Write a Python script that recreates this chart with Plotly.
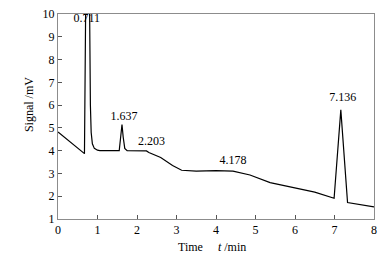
import plotly.graph_objects as go

# chromatogram trace (time in min, signal in mV)
time = [0.0, 0.66, 0.67, 0.70, 0.76, 0.80, 0.82, 0.84, 0.87, 0.92, 1.0, 1.06, 1.55, 1.59, 1.62, 1.65, 1.69, 1.75, 2.0, 2.2, 2.24, 2.3,
        2.6, 2.9, 3.13, 3.5, 4.0, 4.43, 4.86, 5.37, 6.04, 6.5, 6.99, 7.16, 7.33, 8.0]
signal = [4.82, 3.87, 3.87, 10.2, 10.2, 10.2, 6.0, 4.8, 4.3, 4.1, 4.02, 4.0, 4.0, 4.6, 5.15, 4.6, 4.1, 4.0, 3.98, 3.97, 3.99, 3.92,
          3.7, 3.35, 3.14, 3.1, 3.12, 3.1, 2.93, 2.6, 2.37, 2.18, 1.91, 5.79, 1.72, 1.53]

# peak labels
peak_labels = ["0.711", "1.637", "2.203", "4.178", "7.136"]
label_x = [0.73, 1.67, 2.37, 4.43, 7.21]
label_y = [9.78, 5.46, 4.37, 3.54, 6.30]

x_ticks = [0, 1, 2, 3, 4, 5, 6, 7, 8]
y_ticks = [1, 2, 3, 4, 5, 6, 7, 8, 9, 10]

FONT = "'Liberation Serif', 'Times New Roman', serif"
tfont = dict(family=FONT, size=12, color="black")

fig = go.Figure()
fig.add_trace(go.Scatter(x=time, y=signal, mode="lines",
                         line=dict(color="black", width=1.2), showlegend=False))
fig.add_trace(go.Scatter(x=label_x, y=label_y, mode="text", text=peak_labels,
                         textfont=tfont, showlegend=False, cliponaxis=False))

axis_common = dict(showline=True, mirror=True, linecolor="#8c8c8c", linewidth=1, automargin=False,
                   ticks="inside", ticklen=4, tickcolor="#555", showgrid=False, zeroline=False,
                   ticklabeloverflow="allow", tickfont=tfont)

fig.update_xaxes(range=[0, 8], tickvals=x_ticks, **axis_common)
fig.update_yaxes(range=[1, 10], tickvals=y_ticks, **axis_common)

fig.add_annotation(text="Time     <i>t</i> /min", xref="paper", yref="paper", x=0.487, y=-0.136,
                   showarrow=False, font=tfont, xanchor="center", yanchor="middle")
fig.add_annotation(text="Signal /mV", xref="paper", yref="paper", x=-0.0934, y=0.558, textangle=-90,
                   showarrow=False, font=tfont, xanchor="center", yanchor="middle")

fig.update_layout(width=382, height=248, margin=dict(l=50, r=16, t=6, b=37),
                  plot_bgcolor="white", paper_bgcolor="white")

fig.write_html("out.html")
